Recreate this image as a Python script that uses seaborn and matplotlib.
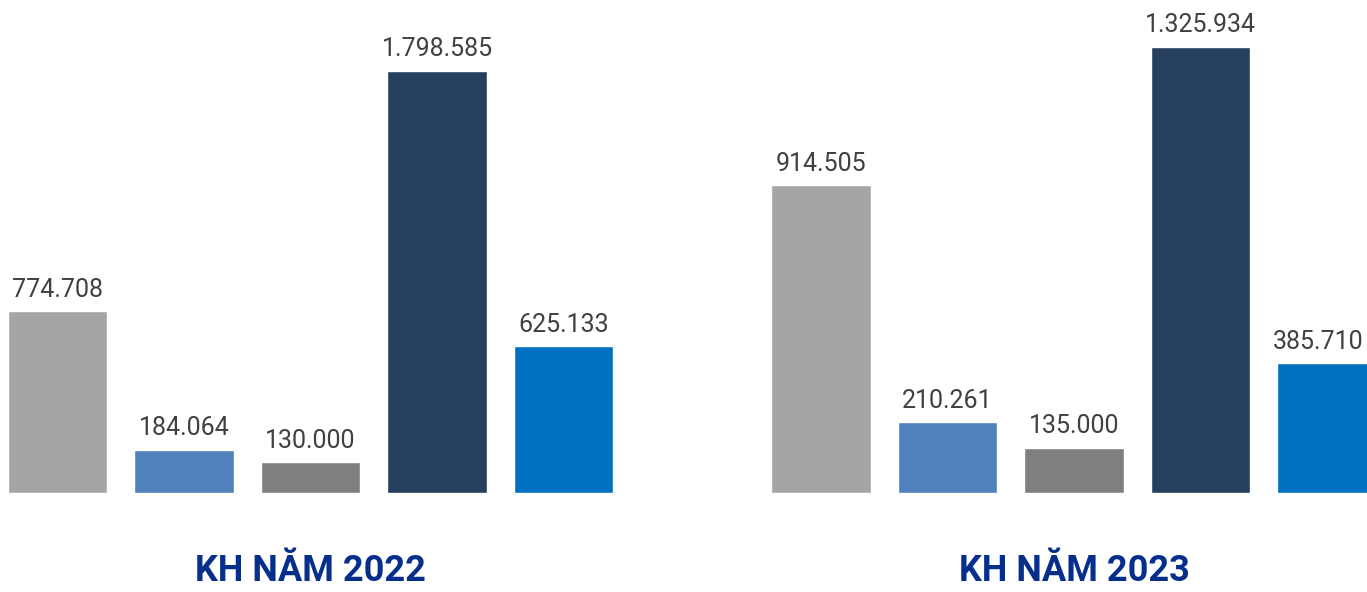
import pandas as pd
import seaborn as sns
import matplotlib.pyplot as plt

# values
groups = ['KH NĂM 2022', 'KH NĂM 2023']
categories = ['A', 'B', 'C', 'D', 'E']
values_2022 = [774708, 184064, 130000, 1798585, 625133]
values_2023 = [914505, 210261, 135000, 1325934, 385710]
bar_colors = ['#A5A5A5', '#4F81BD', '#7F7F7F', '#263F5F', '#0070C0']

TEXT_COLOR = '#404040'
TITLE_COLOR = '#062F8C'
FIG_W, FIG_H = 1367, 592

"""Formats a number with dots as thousand separators."""
def fmt(v: float) -> str:
    return f'{int(round(v)):,}'.replace(',', '.')


sns.set_style('white')
plt.rcParams['font.family'] = ['Roboto', 'DejaVu Sans']

fig = plt.figure(figsize=(FIG_W / 100, FIG_H / 100), dpi=100)

# pixel layout: baseline at y=493, slot width 126.5 px
base_px = 493
slot = 126.5
panels = [
    # (values, first bar centre px, axes left px, axes right px, px height of max bar)
    (values_2022, 57.5, 0, 680, 422),
    (values_2023, 821.0, 690, FIG_W, 446),
]

labels = []
for (vals, c0, left, right, max_h), title in zip(panels, groups):
    ax = fig.add_axes([left / FIG_W, (FIG_H - base_px) / FIG_H,
                       (right - left) / FIG_W, base_px / FIG_H])
    df = pd.DataFrame({'cat': categories, 'value': vals})
    sns.barplot(data=df, x='cat', y='value', hue='cat', palette=bar_colors,
                width=0.79, legend=False, ax=ax, saturation=1)
    ax.set_xlim((left - c0) / slot, (right - c0) / slot)
    ax.set_ylim(0, max(vals) * base_px / max_h)
    for cont in ax.containers:
        labels += ax.bar_label(cont, labels=[fmt(v) for v in cont.datavalues],
                               padding=7, fontsize=18, color=TEXT_COLOR,
                               clip_on=False)
    ax.axis('off')

    # group caption under the bars
    centre = c0 + 2 * slot
    fig.text(centre / FIG_W, 3 / FIG_H, title, ha='center', va='bottom',
             fontsize=26, fontweight='bold', color=TITLE_COLOR)

# keep value labels that run past the right edge inside the picture
renderer = fig.canvas.get_renderer()
for t in labels:
    ext = t.get_window_extent(renderer)
    over = ext.x1 - (FIG_W - 4)
    if over > 0:
        x, y = t.xyann
        t.xyann = (x - over * 72 / 100, y)

fig.savefig('out.png', dpi=100)
